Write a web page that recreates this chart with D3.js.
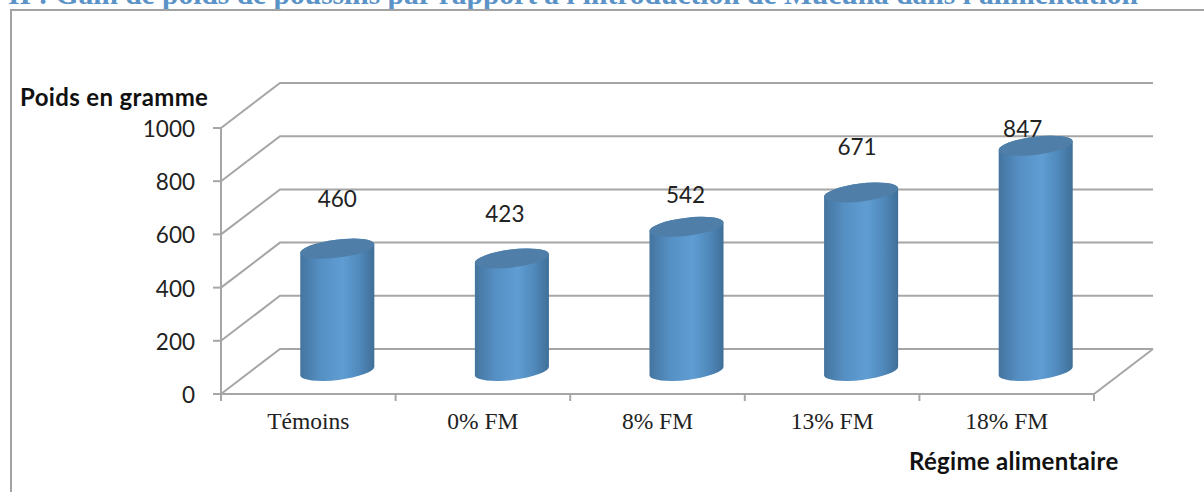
<!DOCTYPE html>
<html><head><meta charset="utf-8">
<script src="https://cdn.jsdelivr.net/npm/d3@7"></script>
<style>html,body{margin:0;padding:0;background:#fff;overflow:hidden}svg{display:block}</style>
</head><body><div id="c"></div>
<script>
const categories=["Témoins","0% FM","8% FM","13% FM","18% FM"];
const values=[460,423,542,671,847];
const yTicks=[0,200,400,600,800,1000];
const labelShift=[[0,-51],[-7,-45],[-1,-33],[-4,-47],[-13,-18]];
const titleText="II : Gain de poids de poussins par rapport à l'introduction de Mucuna dans l'alimentation";
const W=1204,H=492;
const svg=d3.select("#c").append("svg").attr("width",W).attr("height",H);
const x=d3.scaleBand().domain(categories).range([221,1094]);
const y=d3.scaleLinear().domain([0,1000]).range([394,128]);
const DX=59,DY=-45,grid="#a6a6a6";
const defs=svg.append("defs");
const g=defs.append("linearGradient").attr("id","cyl");
[[0,"#44749f"],[.28,"#5690c4"],[.58,"#5f9dd3"],[.8,"#5089bb"],[1,"#406f98"]].forEach(d=>g.append("stop").attr("offset",d[0]).attr("stop-color",d[1]));
const f=defs.append("filter").attr("id","blur");f.append("feGaussianBlur").attr("stdDeviation",.45);
svg.append("text").text(titleText).attr("x",8).attr("y",4).attr("font-family","Liberation Serif").attr("font-weight",700).attr("font-size",29.5).attr("fill","#5b93c7");
svg.append("path").attr("d",`M${W},10H11V${H}`).attr("fill","none").attr("stroke","#a3a3a3").attr("stroke-width",2);
const lines=svg.append("g").attr("fill","none").attr("stroke",grid).attr("stroke-width",2);
yTicks.forEach(t=>{lines.append("path").attr("d",`M${x.range()[0]},${y(t)}L${x.range()[0]+DX},${y(t)+DY}H${x.range()[1]+DX}`);});
lines.append("path").attr("d",`M${x.range()[0]},${y(1000)}V${y(0)}H${x.range()[1]}L${x.range()[1]+DX},${y(0)+DY}`);
yTicks.forEach(t=>lines.append("path").attr("d",`M${x.range()[0]-8},${y(t)}H${x.range()[0]}`));
[...categories.map(c=>x(c)),x.range()[1]].forEach(v=>lines.append("path").attr("d",`M${v},${y(0)}v7`));
svg.append("g").selectAll("text").data(yTicks).join("text").text(d=>d).attr("x",x.range()[0]-26).attr("y",d=>y(d)+9).attr("text-anchor","end").attr("font-family","Lato").attr("font-size",22.5).attr("fill","#222");
svg.append("g").selectAll("text").data(categories).join("text").text(d=>d).attr("x",d=>x(d)+x.bandwidth()/2).attr("y",429).attr("text-anchor","middle").attr("font-family","Liberation Serif").attr("font-size",23.5).attr("fill","#222");
const rx=37.3,ry=9,rot=-7,baseDrop=-23;
const bars=svg.append("g").selectAll("g").data(values).join("g").attr("filter","url(#blur)");
const cx=(i)=>x(categories[i])+x.bandwidth()/2+29;
const a=rot*Math.PI/180,ex=rx*Math.cos(a),ey=rx*Math.sin(a);
bars.append("path").attr("d",(d,i)=>{const c=cx(i),b=y(0)+baseDrop,t=y(d)+baseDrop;
 return `M${c-ex},${t-ey}L${c-ex},${b-ey}A${rx},${ry} ${rot} 0 0 ${c+ex},${b+ey}L${c+ex},${t+ey}A${rx},${ry} ${rot} 0 0 ${c-ex},${t-ey}Z`}).attr("fill","url(#cyl)");
bars.append("ellipse").attr("rx",rx).attr("ry",ry).attr("transform",(d,i)=>`translate(${cx(i)},${y(d)+baseDrop}) rotate(${rot})`).attr("fill","#4f7fa8");
svg.append("g").selectAll("text").data(values).join("text").text(d=>d).attr("x",(d,i)=>cx(i)+labelShift[i][0]).attr("y",(d,i)=>y(d)-22+labelShift[i][1]+8).attr("text-anchor","middle").attr("font-family","Lato").attr("font-size",22.5).attr("fill","#222");
svg.append("text").text("Poids en gramme").attr("x",20).attr("y",106).attr("font-family","Lato").attr("font-weight",700).attr("font-size",24).attr("letter-spacing",.35).attr("fill","#111");
svg.append("text").text("Régime alimentaire").attr("x",909).attr("y",470).attr("font-family","Lato").attr("font-weight",700).attr("font-size",24).attr("letter-spacing",.3).attr("fill","#111");
</script></body></html>
